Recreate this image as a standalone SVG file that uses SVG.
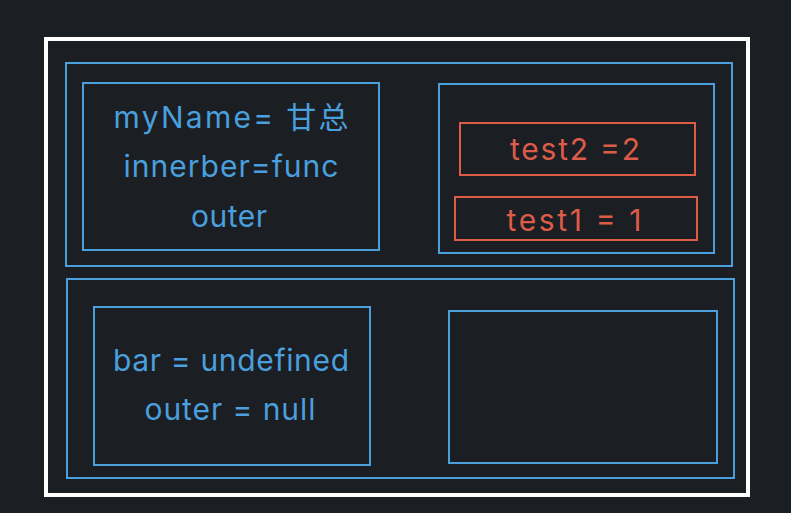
<svg xmlns="http://www.w3.org/2000/svg" width="791" height="513" viewBox="0 0 791 513">
<style>
.b{fill:none;stroke:#4a9fdd;stroke-width:2}
.r{fill:none;stroke:#dc5c47;stroke-width:2}
.t{font-family:Inter,"Liberation Sans","Noto Sans CJK SC",sans-serif;font-size:30px;font-weight:400;text-anchor:middle}
.tb{fill:#4a9fdd}
.tr{fill:#dc5c47}
</style>
<rect x="0" y="0" width="791" height="513" fill="#1b1e23"/>
<g id="outer-frame"><rect x="46" y="39" width="702" height="456" fill="none" stroke="#ffffff" stroke-width="4"/></g>
<g id="top-section"><rect class="b" x="66" y="63" width="666" height="203"/></g>
<g id="top-left">
<rect class="b" x="83" y="83" width="296" height="167"/>
<text class="t tb" x="231" y="128" textLength="235" lengthAdjust="spacing">myName= 甘总</text>
<text class="t tb" x="231" y="177" textLength="215" lengthAdjust="spacing">innerber=func</text>
<text class="t tb" x="229" y="227" textLength="76" lengthAdjust="spacing">outer</text>
</g>
<g id="top-right">
<rect class="b" x="439" y="84" width="275" height="169"/>
<g id="test2"><rect class="r" x="460" y="123" width="235" height="52"/>
<text class="t tr" x="575" y="160" textLength="130" lengthAdjust="spacing">test2 =2</text></g>
<g id="test1"><rect class="r" x="455" y="197" width="242" height="43"/>
<text class="t tr" x="574" y="231" textLength="135" lengthAdjust="spacing">test1 = 1</text></g>
</g>
<g id="bottom-section"><rect class="b" x="67" y="279" width="667" height="199"/></g>
<g id="bottom-left">
<rect class="b" x="94" y="307" width="276" height="158"/>
<text class="t tb" x="231" y="371" textLength="236" lengthAdjust="spacing">bar = undefined</text>
<text class="t tb" x="230" y="420" textLength="171" lengthAdjust="spacing">outer = null</text>
</g>
<g id="bottom-right"><rect class="b" x="449" y="311" width="268" height="152"/></g>
<g id="connectors"></g>
</svg>
